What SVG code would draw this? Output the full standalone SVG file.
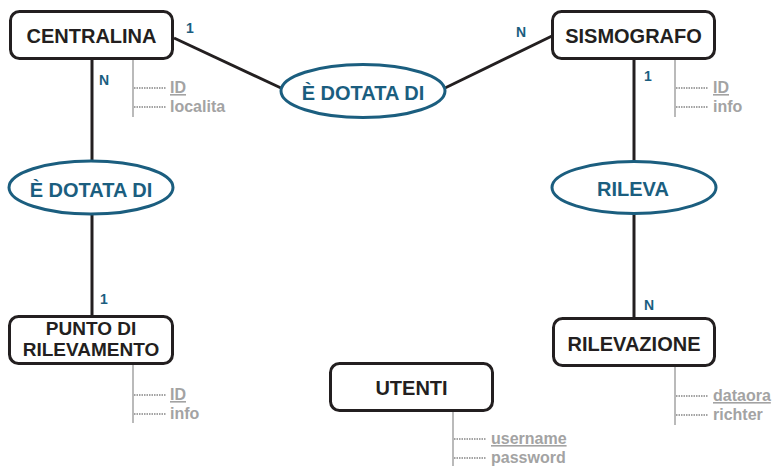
<svg xmlns="http://www.w3.org/2000/svg" width="772" height="466" viewBox="0 0 772 466">
<style>
.box{fill:#fff;stroke:#231f20;stroke-width:3}
.rel{fill:#fff;stroke:#1b5e7f;stroke-width:3}
.bt{font-family:"Liberation Sans",Arial,sans-serif;font-weight:bold;font-size:20px;fill:#231f20;text-anchor:middle}
.bt2{font-family:"Liberation Sans",Arial,sans-serif;font-weight:bold;font-size:19px;fill:#231f20;text-anchor:middle}
.rt{font-family:"Liberation Sans",Arial,sans-serif;font-weight:bold;font-size:20px;fill:#1b5e7f;text-anchor:middle}
.card{font-family:"Liberation Sans",Arial,sans-serif;font-weight:bold;font-size:14px;fill:#1b5e7f}
.conn{stroke:#231f20;stroke-width:3;fill:none}
.av{stroke:#a3a3a3;stroke-width:1.5;fill:none}
.ad{stroke:#a3a3a3;stroke-width:2;stroke-dasharray:1.5 1;fill:none}
.at{font-family:"Liberation Sans",Arial,sans-serif;font-weight:bold;font-size:16px;fill:#a3a3a3}
.key{text-decoration:underline}
</style>
<g id="connectors">
<line class="conn" x1="174" y1="38" x2="281" y2="88"/>
<line class="conn" x1="445" y1="88" x2="552" y2="36"/>
<line class="conn" x1="92" y1="60" x2="92" y2="161"/>
<line class="conn" x1="92" y1="214" x2="92" y2="317"/>
<line class="conn" x1="634" y1="60" x2="634" y2="162"/>
<line class="conn" x1="634" y1="213" x2="634" y2="318"/>
</g>
<g id="cardinalities">
<text class="card" x="186" y="33">1</text>
<text class="card" x="99" y="85">N</text>
<text class="card" x="516" y="37">N</text>
<text class="card" x="644" y="81">1</text>
<text class="card" x="100" y="304">1</text>
<text class="card" x="644" y="310">N</text>
</g>
<g id="centralina">
<rect class="box" x="10.5" y="11.5" width="162" height="47" rx="9"/>
<text class="bt" x="91.5" y="43">CENTRALINA</text>
<line class="av" x1="133" y1="60" x2="133" y2="117"/>
<line class="ad" x1="134" y1="88" x2="166" y2="88"/>
<line class="ad" x1="134" y1="107" x2="166" y2="107"/>
<text class="at key" x="170" y="93">ID</text>
<text class="at" x="170" y="112">localita</text>
</g>
<g id="sismografo">
<rect class="box" x="552.5" y="11.5" width="162" height="47" rx="9"/>
<text class="bt" x="633.5" y="43">SISMOGRAFO</text>
<line class="av" x1="675" y1="60" x2="675" y2="117"/>
<line class="ad" x1="676" y1="88" x2="708" y2="88"/>
<line class="ad" x1="676" y1="107" x2="708" y2="107"/>
<text class="at key" x="713" y="93">ID</text>
<text class="at" x="713" y="112">info</text>
</g>
<g id="rel-dotata-top">
<ellipse class="rel" cx="363" cy="91" rx="82" ry="26.5"/>
<text class="rt" x="363" y="100">È DOTATA DI</text>
</g>
<g id="rel-dotata-left">
<ellipse class="rel" cx="91" cy="187.5" rx="82" ry="26.5"/>
<text class="rt" x="91" y="197">È DOTATA DI</text>
</g>
<g id="rel-rileva">
<ellipse class="rel" cx="634" cy="187.5" rx="82" ry="26"/>
<text class="rt" x="633" y="196">RILEVA</text>
</g>
<g id="punto-di-rilevamento">
<rect class="box" x="9.5" y="316.5" width="163" height="47" rx="9"/>
<text class="bt2" x="91" y="335">PUNTO DI</text>
<text class="bt2" x="91" y="356">RILEVAMENTO</text>
<line class="av" x1="133" y1="365" x2="133" y2="423"/>
<line class="ad" x1="134" y1="395" x2="166" y2="395"/>
<line class="ad" x1="134" y1="414" x2="166" y2="414"/>
<text class="at key" x="170" y="400">ID</text>
<text class="at" x="170" y="419">info</text>
</g>
<g id="rilevazione">
<rect class="box" x="553.5" y="318.5" width="161" height="47" rx="9"/>
<text class="bt" x="634" y="351">RILEVAZIONE</text>
<line class="av" x1="675" y1="367" x2="675" y2="425"/>
<line class="ad" x1="676" y1="396" x2="708" y2="396"/>
<line class="ad" x1="676" y1="415" x2="708" y2="415"/>
<text class="at key" x="713" y="401">dataora</text>
<text class="at" x="713" y="420">richter</text>
</g>
<g id="utenti">
<rect class="box" x="330.5" y="363.5" width="162" height="47" rx="9"/>
<text class="bt" x="411.5" y="395">UTENTI</text>
<line class="av" x1="453" y1="412" x2="453" y2="466"/>
<line class="ad" x1="454" y1="439" x2="486" y2="439"/>
<line class="ad" x1="454" y1="458" x2="486" y2="458"/>
<text class="at key" x="491" y="444">username</text>
<text class="at" x="491" y="463">password</text>
</g>
</svg>
